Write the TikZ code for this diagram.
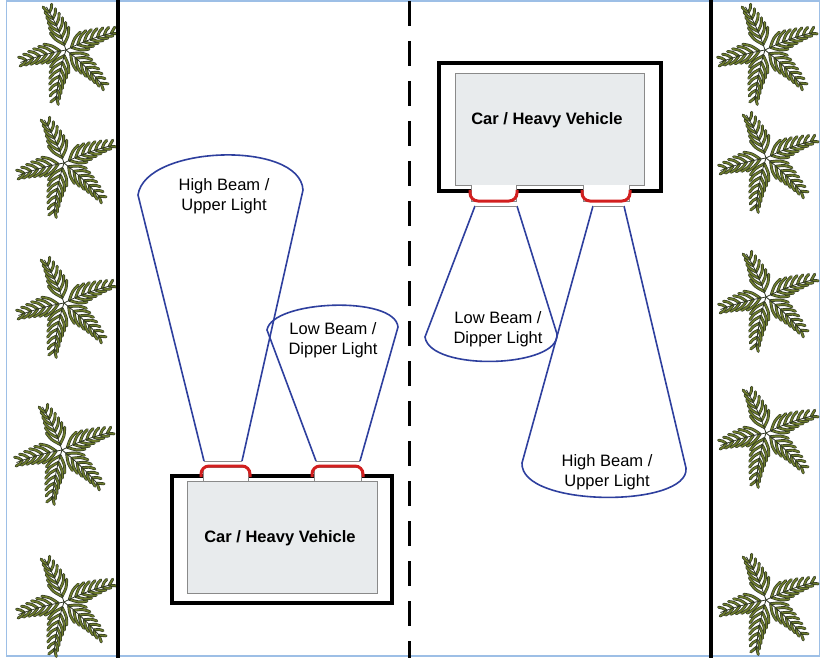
\documentclass[tikz,border=0pt]{standalone}
\usepackage{fontspec}
\setmainfont{Liberation Sans}
\definecolor{beamblue}{HTML}{2E3F9E}
\definecolor{lampred}{HTML}{D21F1F}
\definecolor{carfill}{HTML}{E8EBED}
\definecolor{cargray}{HTML}{8A8A8A}
\definecolor{palmgreen}{HTML}{6E7C2C}
\definecolor{palmdark}{HTML}{2E3523}
\definecolor{frameblue}{HTML}{9DBFE6}
\newcommand\palmfrond[3]{%
 \begin{scope}[rotate=#1]
  \foreach \s in {6,13,...,#2}{
    \pgfmathsetmacro\lfl{5+14*(1-\s/(#2+6))}
    \pgfmathsetmacro\yy{#3*(\s/50)*(\s/50)}
    \foreach \sg in {1,-1}{
     \pgfmathsetmacro\cx{\s+0.4*\lfl}
     \pgfmathsetmacro\cy{\yy+\sg*0.4*\lfl}
     \pgfmathsetmacro\ex{\s+0.85*\lfl}
     \pgfmathsetmacro\ey{\yy+\sg*0.55*\lfl}
     \draw[palmdark,line width=2.9,line cap=round] (\s,\yy) .. controls (\cx,\cy) .. (\ex,\ey);
     \draw[palmgreen,line width=1.6,line cap=round] (\s,\yy) .. controls (\cx,\cy) .. (\ex,\ey);
    }
  }
  \draw[palmdark, line width=0.8] plot[domain=0:#2, samples=10] (\x, {#3*(\x/50)*(\x/50)});
 \end{scope}}
\newcommand\palmtree[2]{%
 \begin{scope}[shift={(#1,#2)}]
  \palmfrond{108}{47}{-6}
  \palmfrond{27}{49}{6}
  \palmfrond{190}{47}{-5}
  \palmfrond{-38}{50}{5}
  \palmfrond{-108}{51}{-6}
 \end{scope}}
\tikzset{
  roadline/.style={line width=4.5},
  caroutline/.style={draw=black, line width=4, inner sep=0},
  carbody/.style={draw=cargray, fill=carfill, line width=0.8, inner sep=0},
  lamp/.style={draw=cargray, fill=white, line width=0.8},
  lampcap/.style={draw=lampred, line width=3, rounded corners=8},
  beam/.style={draw=beamblue, line width=1.6},
  beamedge/.style={draw=cargray, line width=0.8},
  beamtext/.style={align=center, font=\fontsize{16.5}{20.5}\selectfont, inner sep=0},
  cartext/.style={font=\bfseries\fontsize{16.5}{20}\selectfont, inner sep=0}
}
\begin{document}
\begin{tikzpicture}[x=1pt,y=-1pt]
\useasboundingbox (0,0) rectangle (825,658);
\fill[white] (0,0) rectangle (825,658);
\draw[frameblue, line width=1.6] (6.5,1) rectangle (819.5,656);
% palms
\palmtree{66}{50}
\palmtree{64}{163}
\palmtree{64}{303}
\palmtree{62}{450}
\palmtree{64}{602}
\palmtree{765}{50}
\palmtree{766}{158}
\palmtree{766}{297}
\palmtree{766}{433}
\palmtree{766}{600}
% road
\draw[roadline] (118,0) -- (118,658);
\draw[roadline] (711,0) -- (711,658);
\draw[line width=3, dash pattern=on 25 off 15] (409,1) -- (409,658);
% bottom car
\node[caroutline, minimum width=220, minimum height=127] (carA) at (282,539.5) {};
\node[carbody, minimum width=190, minimum height=112] (bodyA) at (282,537) {};
\draw[lamp] (203,481) -- (203,467) -- (248,467) -- (248,481);
\draw[lamp] (314,481) -- (314,467) -- (361,467) -- (361,481);
\draw[lampcap] (201,477) -- (201,466) -- (250,466) -- (250,477);
\draw[lampcap] (312,477) -- (312,466) -- (363,466) -- (363,477);
\node[cartext] (txtA) at (280,538.5) {Car / Heavy Vehicle};
% top car
\node[caroutline, minimum width=222, minimum height=128] (carB) at (550,127) {};
\node[carbody, minimum width=189, minimum height=112] (bodyB) at (549.5,129) {};
\draw[lamp] (471,185) -- (471,201) -- (516,201) -- (516,185);
\draw[lamp] (583,185) -- (583,201) -- (629,201) -- (629,185);
\draw[lampcap] (470,190) -- (470,201) -- (517,201) -- (517,190);
\draw[lampcap] (582,190) -- (582,201) -- (630,201) -- (630,190);
\node[cartext] (txtB) at (547,120.5) {Car / Heavy Vehicle};
% beams of bottom car
\coordinate (hA1) at (204,461); \coordinate (hA2) at (242,461);
\coordinate (lA1) at (316,461); \coordinate (lA2) at (360,461);
\draw[beam] (hA1) -- (138,195) .. controls (145,145) and (300,140) .. (303,190) -- (hA2);
\draw[beamedge] (hA1) -- (hA2);
\draw[beam] (lA1) -- (267,330) .. controls (272,300) and (395,295) .. (398,327) -- (lA2);
\draw[beamedge] (lA1) -- (lA2);
\node[beamtext] (hbA) at (224,196) {High Beam /\\Upper Light};
\node[beamtext] (lbA) at (333,340) {Low Beam /\\Dipper Light};
% beams of top car
\coordinate (lB1) at (475,206); \coordinate (lB2) at (517,206);
\coordinate (hB1) at (593,206); \coordinate (hB2) at (624,206);
\draw[beam] (lB1) -- (425,337) .. controls (430,372) and (560,368) .. (557,334) -- (lB2);
\draw[beamedge] (lB1) -- (lB2);
\draw[beam] (hB1) -- (522,463) .. controls (520,508) and (690,508) .. (686,468) -- (hB2);
\draw[beamedge] (hB1) -- (hB2);
\node[beamtext] (lbB) at (498,329) {Low Beam /\\Dipper Light};
\node[beamtext] (hbB) at (607,472) {High Beam /\\Upper Light};
\end{tikzpicture}
\end{document}
